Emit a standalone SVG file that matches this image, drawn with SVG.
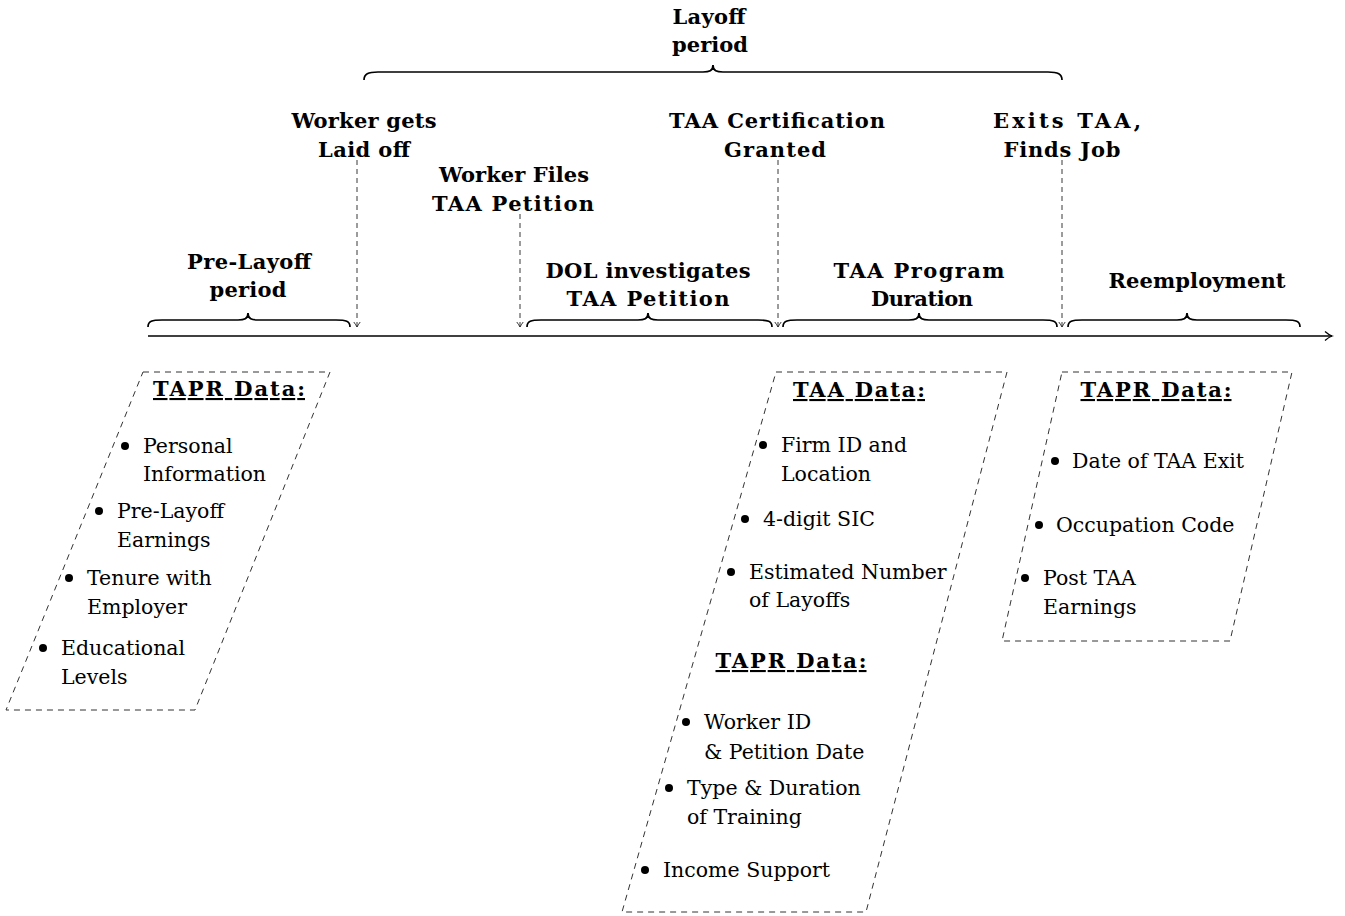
<svg xmlns="http://www.w3.org/2000/svg" width="1345" height="916" viewBox="0 0 1345 916">
<defs>
<marker id="tip" markerUnits="userSpaceOnUse" markerWidth="10" markerHeight="10" refX="6" refY="5" orient="auto">
<path d="M1,1.8 Q4,4 6,5 Q4,6 1,8.2" fill="none" stroke="#222" stroke-width="0.9"/>
</marker>
<marker id="axtip" markerUnits="userSpaceOnUse" markerWidth="14" markerHeight="14" refX="9" refY="7" orient="auto">
<path d="M2,2.5 Q6,6 9,7 Q6,8 2,11.5" fill="none" stroke="#000" stroke-width="1.3"/>
</marker>
</defs>
<style>
.b{font-family:"DejaVu Serif","Liberation Serif",serif;font-weight:bold;font-size:21px;fill:#000;text-anchor:middle}
.t{font-family:"DejaVu Serif","Liberation Serif",serif;font-size:20.5px;fill:#000}
.h{font-family:"DejaVu Serif","Liberation Serif",serif;font-weight:bold;font-size:21px;fill:#000;text-anchor:middle;text-decoration:underline}
.brace{fill:none;stroke:#000;stroke-width:1.7}
.drop{fill:none;stroke:#222;stroke-width:0.9;stroke-dasharray:5 4}
.box{fill:none;stroke:#333;stroke-width:1;stroke-dasharray:6 5}
.dot{fill:#000}
</style>

<g id="connectors">
<line id="axis" x1="148" y1="336" x2="1332" y2="336" stroke="#000" stroke-width="1.6" marker-end="url(#axtip)"/>
<line class="drop" x1="357" y1="160" x2="357" y2="327" marker-end="url(#tip)"/>
<line class="drop" x1="520" y1="214" x2="520" y2="327" marker-end="url(#tip)"/>
<line class="drop" x1="778" y1="160" x2="778" y2="327" marker-end="url(#tip)"/>
<line class="drop" x1="1062" y1="160" x2="1062" y2="327" marker-end="url(#tip)"/>
</g>

<g id="layoff-period">
<path class="brace" d="M364,80 C364,74 368,72 378,72 L703,72 C709,72 713,71 713,65 C713,71 717,72 723,72 L1048,72 C1058,72 1062,74 1062,80"/>
<text class="b" x="709" y="24" textLength="73">Layoff</text>
<text class="b" x="710" y="52" textLength="76">period</text>
</g>

<g id="worker-laid-off">
<text class="b" x="364" y="128" textLength="145">Worker gets</text>
<text class="b" x="364" y="157" textLength="92">Laid off</text>
</g>

<g id="worker-files">
<text class="b" x="514" y="182" textLength="150">Worker Files</text>
<text class="b" x="513" y="211" textLength="162">TAA Petition</text>
</g>

<g id="taa-certification">
<text class="b" x="777" y="128" textLength="216">TAA Certification</text>
<text class="b" x="775" y="157" textLength="102">Granted</text>
</g>

<g id="exits-taa">
<text class="b" x="1067" y="128" textLength="148">Exits TAA,</text>
<text class="b" x="1062" y="157" textLength="117">Finds Job</text>
</g>

<g id="pre-layoff">
<path class="brace" d="M148,327 C148,321 152,320 162,320 L238,320 C244,320 248,319 248,313 C248,319 252,320 258,320 L336,320 C346,320 350,321 350,327"/>
<text class="b" x="249" y="269" textLength="124">Pre-Layoff</text>
<text class="b" x="248" y="297" textLength="77">period</text>
</g>

<g id="dol-investigates">
<path class="brace" d="M527,327 C527,321 531,320 541,320 L638,320 C644,320 648,319 648,313 C648,319 652,320 658,320 L758,320 C768,320 772,321 772,327"/>
<text class="b" x="648" y="278" textLength="205">DOL investigates</text>
<text class="b" x="648" y="306" textLength="163">TAA Petition</text>
</g>

<g id="taa-program">
<path class="brace" d="M783,327 C783,321 787,320 797,320 L909,320 C915,320 919,319 919,313 C919,319 923,320 929,320 L1043,320 C1053,320 1057,321 1057,327"/>
<text class="b" x="919" y="278" textLength="171">TAA Program</text>
<text class="b" x="922" y="306" textLength="102">Duration</text>
</g>

<g id="reemployment">
<path class="brace" d="M1068,327 C1068,321 1072,320 1082,320 L1177,320 C1183,320 1187,319 1187,313 C1187,319 1191,320 1197,320 L1286,320 C1296,320 1300,321 1300,327"/>
<text class="b" x="1197" y="288" textLength="177">Reemployment</text>
</g>

<g id="pre-layoff-data">
<polygon class="box" points="143,372 330,372 195,710 6,710"/>
<text class="h" x="229" y="396" textLength="152">TAPR Data:</text>
<circle class="dot" cx="125" cy="446" r="4"/>
<text class="t" x="143" y="453">Personal</text>
<text class="t" x="143" y="481">Information</text>
<circle class="dot" cx="99" cy="511" r="4"/>
<text class="t" x="117" y="518">Pre-Layoff</text>
<text class="t" x="117" y="547">Earnings</text>
<circle class="dot" cx="69" cy="578" r="4"/>
<text class="t" x="87" y="585">Tenure with</text>
<text class="t" x="87" y="614">Employer</text>
<circle class="dot" cx="43" cy="648" r="4"/>
<text class="t" x="61" y="655">Educational</text>
<text class="t" x="61" y="684">Levels</text>
</g>

<g id="program-data">
<polygon class="box" points="776,372 1007,372 866,912 622,912"/>
<text class="h" x="859" y="397" textLength="132">TAA Data:</text>
<circle class="dot" cx="763" cy="445" r="4"/>
<text class="t" x="781" y="452">Firm ID and</text>
<text class="t" x="781" y="481">Location</text>
<circle class="dot" cx="745" cy="519" r="4"/>
<text class="t" x="763" y="526">4-digit SIC</text>
<circle class="dot" cx="731" cy="572" r="4"/>
<text class="t" x="749" y="579">Estimated Number</text>
<text class="t" x="749" y="607">of Layoffs</text>
<text class="h" x="791" y="668" textLength="151">TAPR Data:</text>
<circle class="dot" cx="686" cy="722" r="4"/>
<text class="t" x="704" y="729">Worker ID</text>
<text class="t" x="704" y="759">&amp; Petition Date</text>
<circle class="dot" cx="669" cy="788" r="4"/>
<text class="t" x="687" y="795">Type &amp; Duration</text>
<text class="t" x="687" y="824">of Training</text>
<circle class="dot" cx="645" cy="870" r="4"/>
<text class="t" x="663" y="877">Income Support</text>
</g>

<g id="reemployment-data">
<polygon class="box" points="1062,372 1292,372 1230,641 1002,641"/>
<text class="h" x="1156" y="397" textLength="151">TAPR Data:</text>
<circle class="dot" cx="1055" cy="461" r="4"/>
<text class="t" x="1072" y="468">Date of TAA Exit</text>
<circle class="dot" cx="1039" cy="525" r="4"/>
<text class="t" x="1056" y="532">Occupation Code</text>
<circle class="dot" cx="1025" cy="578" r="4"/>
<text class="t" x="1043" y="585">Post TAA</text>
<text class="t" x="1043" y="614">Earnings</text>
</g>
</svg>
